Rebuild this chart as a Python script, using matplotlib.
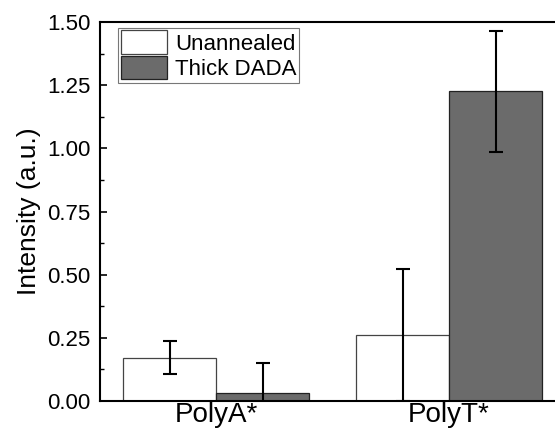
import numpy as np
import matplotlib.pyplot as plt
from matplotlib.ticker import MultipleLocator

plt.rcParams['font.family'] = ['Liberation Sans', 'DejaVu Sans']

groups = ['PolyA*', 'PolyT*']
unannealed = [0.171, 0.261]
unannealed_err = [0.065, 0.261]
thick = [0.033, 1.226]
thick_err = [0.116, 0.240]

fig = plt.figure(figsize=(5.55, 4.33), dpi=100)
# right edge of the original plot is cut off, so the axes run past the figure
ax = fig.add_axes([100/555, 1 - 401/433, 465.5/555, 379/433])

x = np.arange(len(groups))
w = 0.4
ax.bar(x - w/2, unannealed, w, color='white', edgecolor='#444444', linewidth=0.9,
       label='Unannealed', zorder=2)
ax.bar(x + w/2, thick, w, color='#6b6b6b', edgecolor='#222222', linewidth=0.9,
       label='Thick DADA', zorder=2)
ax.errorbar(x - w/2, unannealed, yerr=unannealed_err, fmt='none', ecolor='black',
            elinewidth=1.5, capsize=5, capthick=1.5, zorder=3)
ax.errorbar(x + w/2, thick, yerr=thick_err, fmt='none', ecolor='black',
            elinewidth=1.5, capsize=5, capthick=1.5, zorder=3)

ax.set_xlim(-0.5, 1.5)
ax.set_ylim(0, 1.5)
ax.set_xticks(x)
ax.set_xticklabels(groups, fontsize=20)
ax.tick_params(axis='x', length=0, pad=1)
ax.yaxis.set_major_locator(MultipleLocator(0.25))
ax.yaxis.set_minor_locator(MultipleLocator(0.125))
ax.yaxis.set_major_formatter(plt.FormatStrFormatter('%.2f'))
ax.tick_params(axis='y', which='major', direction='in', length=5, width=1.2,
               labelsize=16, pad=7)
ax.tick_params(axis='y', which='minor', direction='in', length=3, width=1)
ax.set_ylabel('Intensity (a.u.)', fontsize=19, labelpad=4)

for s in ['left', 'bottom', 'top']:
    ax.spines[s].set_linewidth(1.5)
ax.spines['right'].set_visible(False)

leg = ax.legend(loc='upper left', bbox_to_anchor=(0.039, 0.985), fontsize=16,
                frameon=True, fancybox=False, edgecolor='#555555',
                handlelength=2.1, handleheight=1.25, handletextpad=0.35,
                borderpad=0.12, labelspacing=0.05, borderaxespad=0)
leg.get_frame().set_linewidth(0.8)

fig.savefig('out.png', dpi=100)
